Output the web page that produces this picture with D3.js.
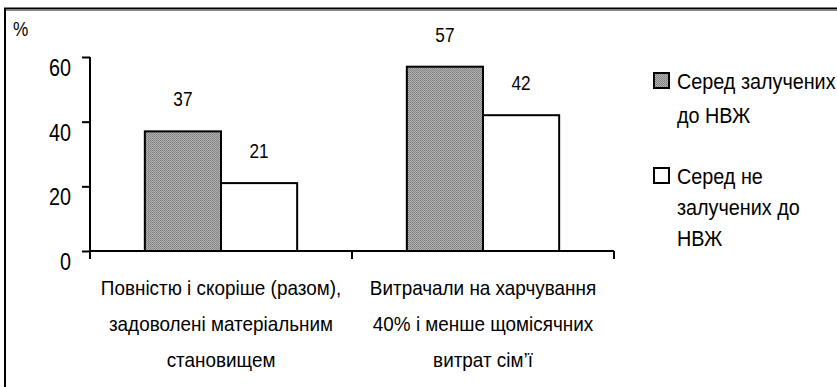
<!DOCTYPE html>
<html lang="uk">
<head>
    <meta charset="UTF-8">
    <title>Задоволеність матеріальним становищем</title>
    <style>
        body {
            margin: 0;
            padding: 0;
            background: #fff;
        }
        svg text {
            font-family: "Liberation Sans", Arial, sans-serif;
            fill: #000;
        }
    </style>
</head>
<body>
    <div id="chart"></div>
    <script src="https://d3js.org/d3.v7.min.js"></script>
    <script>
        // data
        var categories = ["cat1", "cat2"];
        var categoryLabels = [
            ["Повністю і скоріше (разом),", "задоволені матеріальним", "становищем"],
            ["Витрачали на харчування", "40% і менше щомісячних", "витрат сім’ї"]
        ];
        var series = ["Серед залучених до НВЖ", "Серед не залучених до НВЖ"];
        var legendLines = [
            ["Серед залучених", "до НВЖ"],
            ["Серед не", "залучених до", "НВЖ"]
        ];
        var involved = [37, 57];
        var notInvolved = [21, 42];
        var yTicks = [0, 20, 40, 60];

        var W = 837, H = 387;

        var svg = d3.select("#chart")
            .append("svg")
            .attr("width", W)
            .attr("height", H);

        // dotted grey fill like the original
        var defs = svg.append("defs");
        var pat = defs.append("pattern")
            .attr("id", "dots")
            .attr("width", 2)
            .attr("height", 2)
            .attr("patternUnits", "userSpaceOnUse");
        pat.append("rect").attr("width", 2).attr("height", 2).attr("fill", "#b0b0b0");
        pat.append("rect").attr("width", 1).attr("height", 1).attr("fill", "#808080");
        pat.append("rect").attr("x", 1).attr("y", 1).attr("width", 1).attr("height", 1).attr("fill", "#8c8c8c");

        var fills = ["url(#dots)", "#fff"];

        // frame (only top and left edges are visible)
        svg.append("path")
            .attr("d", "M5,387 V8.5 H837")
            .attr("fill", "none")
            .attr("stroke", "#000")
            .attr("stroke-width", 2);
        svg.append("line")
            .attr("x1", 6).attr("x2", 837)
            .attr("y1", 10.5).attr("y2", 10.5)
            .attr("stroke", "#888")
            .attr("stroke-width", 1);

        // scales
        var x = d3.scaleBand()
            .domain(categories)
            .range([90, 614])
            .padding(0);

        var xs = d3.scaleBand()
            .domain(series)
            .range([0, x.bandwidth()])
            .paddingInner(0)
            .paddingOuter(0.72);

        var y = d3.scaleLinear()
            .domain([0, 60])
            .range([251, 57]);

        // the original font is a bit narrower, so squeeze text horizontally
        function txt(g, s, px, py, size, anchor, sx) {
            return g.append("text")
                .attr("transform", "translate(" + px + "," + py + ") scale(" + (sx || 0.9) + ",1)")
                .attr("text-anchor", anchor || "middle")
                .style("font-size", size + "px")
                .text(s);
        }

        // y axis
        var yAxis = d3.axisLeft(y)
            .tickValues(yTicks)
            .tickSize(8)
            .tickSizeOuter(0)
            .tickFormat(d3.format("d"));

        var gy = svg.append("g")
            .attr("transform", "translate(90,0)")
            .call(yAxis);
        gy.select(".domain").attr("stroke-width", 2).attr("d", "M0," + y(60) + "V" + (y(0) + 8));
        gy.selectAll(".tick line").attr("stroke-width", 2);
        gy.selectAll(".tick text").remove();
        yTicks.forEach(function(t) {
            txt(svg, String(t), 71, y(t) + 19, 23, "end", 0.86);
        });

        // x axis
        svg.append("line")
            .attr("x1", x.range()[0]).attr("x2", x.range()[1])
            .attr("y1", y(0)).attr("y2", y(0))
            .attr("stroke", "#000")
            .attr("stroke-width", 2);
        var bounds = [x.range()[0]].concat(categories.map(function(c) { return x(c) + x.bandwidth(); }));
        svg.selectAll(".xtick")
            .data(bounds)
            .enter()
            .append("line")
            .attr("class", "xtick")
            .attr("x1", function(d) { return d; })
            .attr("x2", function(d) { return d; })
            .attr("y1", y(0))
            .attr("y2", y(0) + 8)
            .attr("stroke", "#000")
            .attr("stroke-width", 2);

        // bars
        var rows = [];
        categories.forEach(function(c, i) {
            rows.push({ cat: c, s: 0, v: involved[i] });
            rows.push({ cat: c, s: 1, v: notInvolved[i] });
        });

        svg.selectAll(".bar")
            .data(rows)
            .enter()
            .append("rect")
            .attr("class", "bar")
            .attr("x", function(d) { return x(d.cat) + xs(series[d.s]); })
            .attr("y", function(d) { return y(d.v); })
            .attr("width", xs.bandwidth())
            .attr("height", function(d) { return y(0) - y(d.v); })
            .attr("fill", function(d) { return fills[d.s]; })
            .attr("stroke", "#000")
            .attr("stroke-width", 2);

        // value labels
        rows.forEach(function(d) {
            txt(svg, String(d.v), x(d.cat) + xs(series[d.s]) + xs.bandwidth() / 2, y(d.v) - 25, 20, "middle", 0.86);
        });

        // category labels
        categories.forEach(function(c, i) {
            categoryLabels[i].forEach(function(line, j) {
                txt(svg, line, x(c) + x.bandwidth() / 2, 295 + j * 36, 21);
            });
        });

        // % label
        txt(svg, "%", 13, 36, 21, "start", 0.82);

        // legend
        var legendTop = [73, 168];
        var lineGap = [34, 31];
        series.forEach(function(s, i) {
            svg.append("rect")
                .attr("x", 654)
                .attr("y", legendTop[i])
                .attr("width", 15)
                .attr("height", 15)
                .attr("fill", fills[i])
                .attr("stroke", "#000")
                .attr("stroke-width", 2);
            legendLines[i].forEach(function(line, j) {
                txt(svg, line, 677, legendTop[i] + 16 + j * lineGap[i], 22, "start");
            });
        });
    </script>
</body>
</html>
